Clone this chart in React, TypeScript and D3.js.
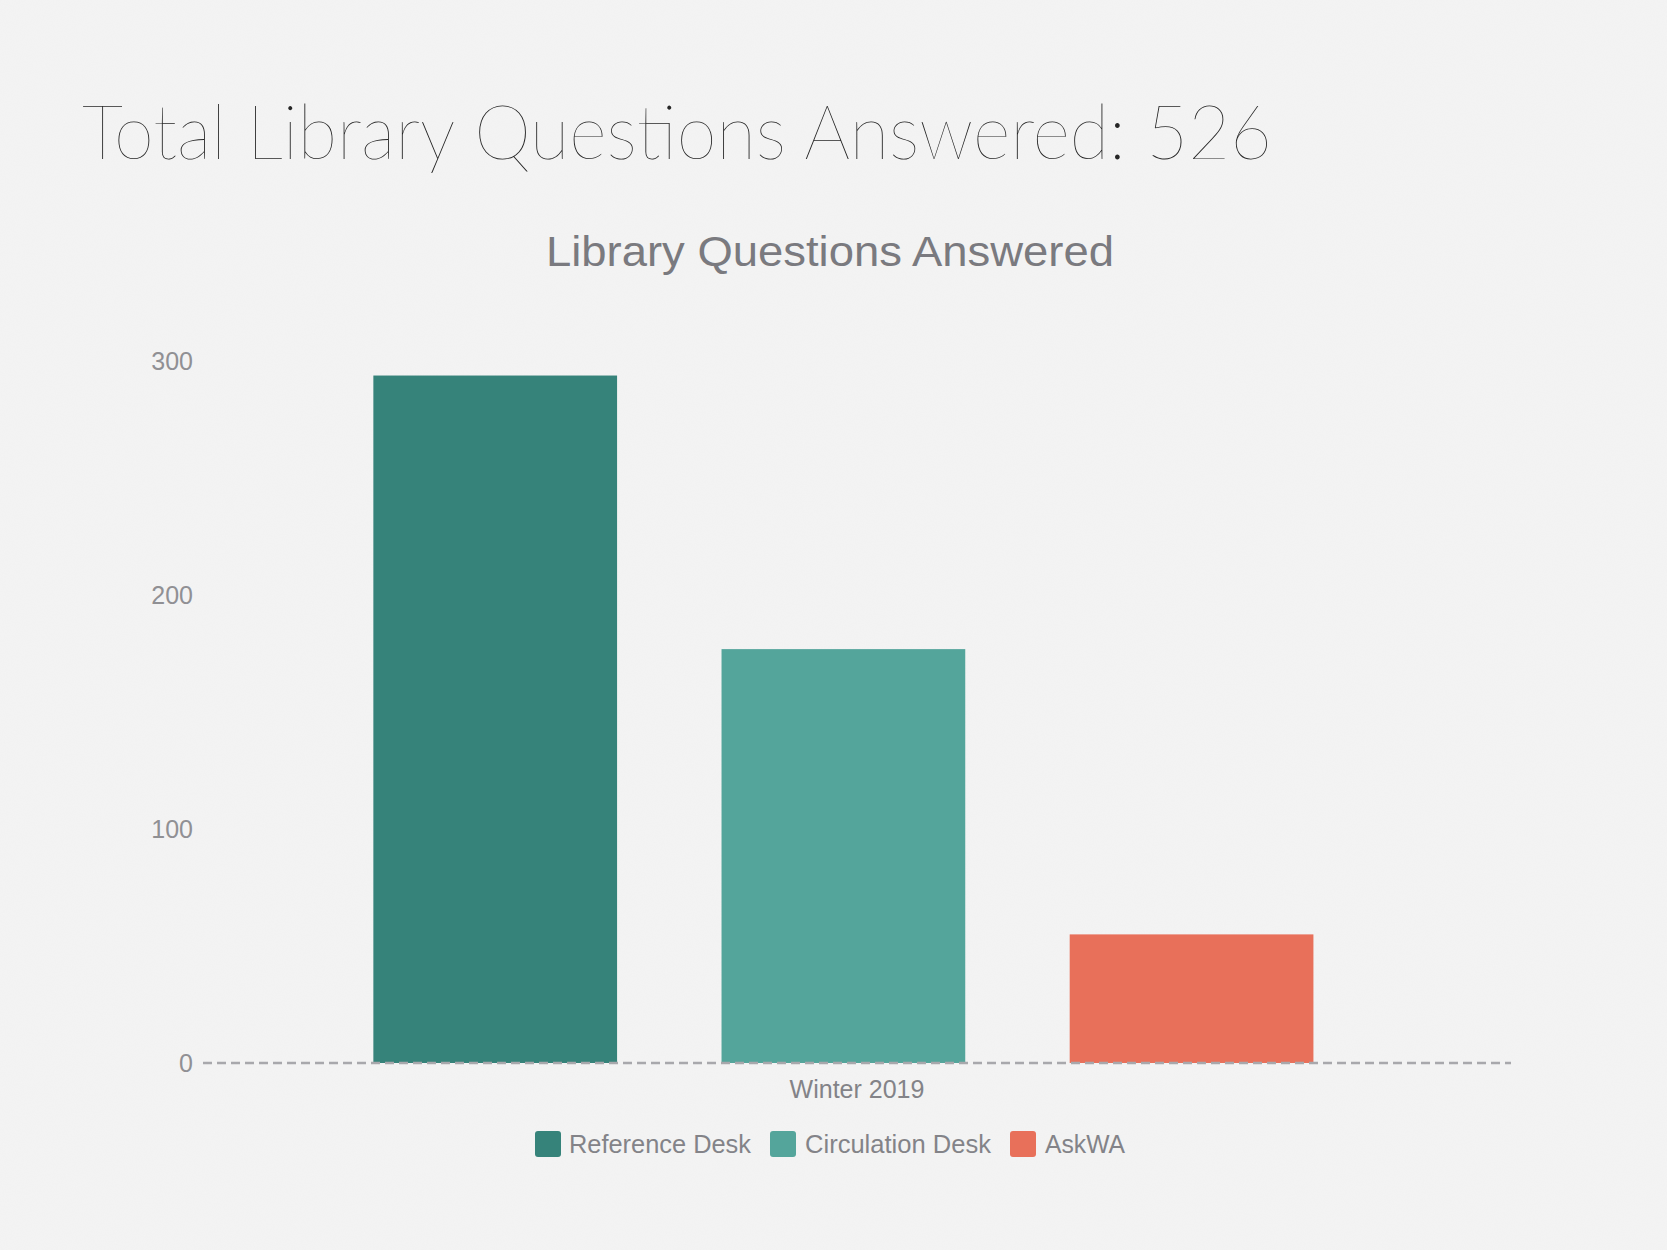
import React from "react";
import * as d3 from "d3";

const categories = ["Winter 2019"];
const seriesNames = ["Reference Desk", "Circulation Desk", "AskWA"];
const seriesValues = [294, 177, 55];
const seriesColors = ["#36837a", "#54a59b", "#e8705a"];
const yTicks = [0, 100, 200, 300];
const totalLabel = "Total Library Questions Answered: 526";
const chartTitle = "Library Questions Answered";

const W = 1667;
const H = 1250;
const plotLeft = 203;
const plotRight = 1511;
const plotTop = 361.5;
const plotBottom = 1063;

export default function App() {
  const y = d3.scaleLinear().domain([0, 300]).range([plotBottom, plotTop]);
  const x0 = d3
    .scaleBand<string>()
    .domain(categories)
    .range([plotLeft, plotRight])
    .paddingInner(0)
    .paddingOuter(0.1957)
    .align(0.463);
  const x1 = d3
    .scaleBand<string>()
    .domain(seriesNames)
    .range([0, x0.bandwidth()])
    .paddingInner(0.3)
    .paddingOuter(0);

  const legendItems = [
    { x: 535, tx: 569, len: 182 },
    { x: 770, tx: 805, len: 186 },
    { x: 1010, tx: 1045, len: 80 },
  ];

  return (
    <svg
      width={W}
      height={H}
      viewBox={`0 0 ${W} ${H}`}
      style={{ position: "absolute", left: 0, top: 0, display: "block" }}
    >
      <defs>
        <filter id="paper" x="0" y="0" width="100%" height="100%">
          <feTurbulence type="fractalNoise" baseFrequency="0.9" numOctaves="2" seed="3" result="n" />
          <feColorMatrix
            in="n"
            type="matrix"
            values="0 0 0 0 0.5  0 0 0 0 0.5  0 0 0 0 0.5  0 0 0 0.05 0"
          />
        </filter>
      </defs>
      <rect x={0} y={0} width={W} height={H} fill="#f4f4f4" />
      <rect x={0} y={0} width={W} height={H} filter="url(#paper)" />

      <text
        x={82}
        y={159}
        fontFamily="Lato, 'Noto Sans', sans-serif"
        fontWeight={100}
        fontSize={76}
        fill="#262626"
        textLength={1190}
        lengthAdjust="spacingAndGlyphs"
      >
        {totalLabel}
      </text>

      <text
        x={546}
        y={266}
        fontFamily="'Liberation Sans', Arial, sans-serif"
        fontSize={43}
        fill="#7a7a7f"
        textLength={568}
        lengthAdjust="spacingAndGlyphs"
      >
        {chartTitle}
      </text>

      {yTicks.map((t) => (
        <text
          key={t}
          x={193}
          y={y(t)}
          dy="0.35em"
          textAnchor="end"
          fontFamily="'Liberation Sans', Arial, sans-serif"
          fontSize={25}
          fill="#909094"
        >
          {t}
        </text>
      ))}

      {categories.map((c) => (
        <g key={c} transform={`translate(${x0(c)},0)`}>
          {seriesNames.map((s, i) => (
            <rect
              key={s}
              x={x1(s)}
              y={y(seriesValues[i])}
              width={x1.bandwidth()}
              height={y(0) - y(seriesValues[i])}
              fill={seriesColors[i]}
            />
          ))}
        </g>
      ))}

      <line
        x1={plotLeft}
        x2={plotRight}
        y1={y(0)}
        y2={y(0)}
        stroke="#a8a8ac"
        strokeWidth={2.5}
        strokeDasharray="9 5"
      />

      {categories.map((c) => (
        <text
          key={c}
          x={(plotLeft + plotRight) / 2}
          y={1098}
          textAnchor="middle"
          fontFamily="'Liberation Sans', Arial, sans-serif"
          fontSize={25}
          fill="#838388"
        >
          {c}
        </text>
      ))}

      {seriesNames.map((s, i) => (
        <g key={s}>
          <rect
            x={legendItems[i].x}
            y={1131}
            width={26}
            height={26}
            rx={3}
            fill={seriesColors[i]}
          />
          <text
            x={legendItems[i].tx}
            y={1153}
            fontFamily="'Liberation Sans', Arial, sans-serif"
            fontSize={25}
            fill="#838388"
            textLength={legendItems[i].len}
            lengthAdjust="spacingAndGlyphs"
          >
            {s}
          </text>
        </g>
      ))}
    </svg>
  );
}
